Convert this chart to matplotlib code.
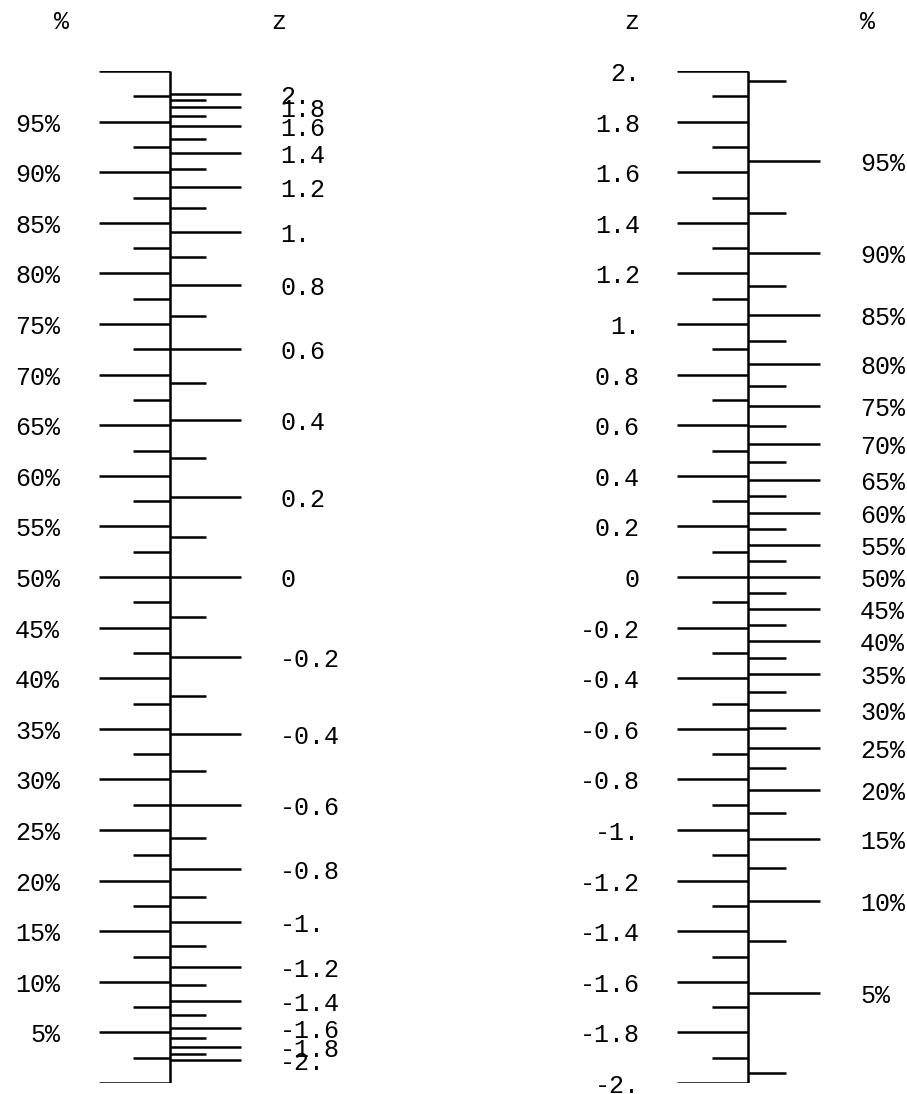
import math
import numpy as np
import matplotlib
matplotlib.use("Agg")
import matplotlib.pyplot as plt
from matplotlib.transforms import offset_copy

# scale values
pct_major = [0, 5, 10, 15, 20, 25, 30, 35, 40, 45, 50, 55, 60, 65, 70, 75, 80, 85, 90, 95, 100]
pct_minor = [2.5, 7.5, 12.5, 17.5, 22.5, 27.5, 32.5, 37.5, 42.5, 47.5,
             52.5, 57.5, 62.5, 67.5, 72.5, 77.5, 82.5, 87.5, 92.5, 97.5]
pct_labeled = [5, 10, 15, 20, 25, 30, 35, 40, 45, 50, 55, 60, 65, 70, 75, 80, 85, 90, 95]
pct_labels = ["5%", "10%", "15%", "20%", "25%", "30%", "35%", "40%", "45%", "50%",
              "55%", "60%", "65%", "70%", "75%", "80%", "85%", "90%", "95%"]

z_major = [-2.0, -1.8, -1.6, -1.4, -1.2, -1.0, -0.8, -0.6, -0.4, -0.2, 0.0,
           0.2, 0.4, 0.6, 0.8, 1.0, 1.2, 1.4, 1.6, 1.8, 2.0]
z_labels = ["-2.", "-1.8", "-1.6", "-1.4", "-1.2", "-1.", "-0.8", "-0.6", "-0.4", "-0.2", "0",
            "0.2", "0.4", "0.6", "0.8", "1.", "1.2", "1.4", "1.6", "1.8", "2."]
z_minor = [-1.9, -1.7, -1.5, -1.3, -1.1, -0.9, -0.7, -0.5, -0.3, -0.1,
           0.1, 0.3, 0.5, 0.7, 0.9, 1.1, 1.3, 1.5, 1.7, 1.9]


def phi(z):
    # normal cdf in percent
    return np.array([50.0 * (1 + math.erf(v / math.sqrt(2))) for v in np.atleast_1d(z)])


def phi_inv(p):
    # inverse normal cdf (p in percent), simple bisection
    out = []
    for v in np.atleast_1d(p):
        lo, hi = -8.0, 8.0
        for _ in range(80):
            mid = 0.5 * (lo + hi)
            if 50.0 * (1 + math.erf(mid / math.sqrt(2))) < v:
                lo = mid
            else:
                hi = mid
        out.append(0.5 * (lo + hi))
    return np.array(out)


W, H = 907, 1094
fig = plt.figure(figsize=(W / 100, H / 100), dpi=100)
font = "Liberation Mono"
fs = 18
lw = 1.8
pos = [0, 1 - 1083 / H, 1, 1012 / H]

# left nomogram: linear percent, z ticks on the right
ax1 = fig.add_axes(pos)
ax1.set_xlim(0, W)
ax1.set_ylim(0, 100)
ax1.axis("off")
t1 = offset_copy(ax1.transData, fig=fig, x=0, y=-3, units="dots")

ax1.vlines(170, 0, 100, color="black", lw=lw)
ax1.hlines(pct_major, 99, 170, color="black", lw=lw)
ax1.hlines(pct_minor, 133, 170, color="black", lw=lw)
for p, lab in zip(pct_labeled, pct_labels):
    ax1.text(60, p, lab, ha="right", va="center", fontsize=fs, family=font, transform=t1)

zp = phi(z_major)
ax1.hlines(zp, 170, 241, color="black", lw=lw)
ax1.hlines(phi(z_minor), 170, 206, color="black", lw=lw)
for y, lab in zip(zp, z_labels):
    ax1.text(280, y, lab, ha="left", va="center", fontsize=fs, family=font, transform=t1)

# right nomogram: linear z, percent ticks on the right
ax2 = fig.add_axes(pos)
ax2.set_xlim(0, W)
ax2.set_ylim(-2, 2)
ax2.axis("off")
t2 = offset_copy(ax2.transData, fig=fig, x=0, y=-3, units="dots")

ax2.vlines(748, -2, 2, color="black", lw=lw)
ax2.hlines(z_major, 677, 748, color="black", lw=lw)
ax2.hlines(z_minor, 712, 748, color="black", lw=lw)
for z, lab in zip(z_major, z_labels):
    ax2.text(640, z, lab, ha="right", va="center", fontsize=fs, family=font, transform=t2)

pz = phi_inv(pct_labeled)
ax2.hlines(pz, 748, 820, color="black", lw=lw)
ax2.hlines(phi_inv(pct_minor), 748, 786, color="black", lw=lw)
for z, lab in zip(pz, pct_labels):
    ax2.text(860, z, lab, ha="left", va="center", fontsize=fs, family=font, transform=t2)

# column headers
for x, t in [(62, "%"), (279, "z"), (632, "z"), (868, "%")]:
    fig.text(x / W, 1 - 22 / H, t, ha="center", va="center", fontsize=fs, family=font)

fig.savefig("out.png", dpi=100)
